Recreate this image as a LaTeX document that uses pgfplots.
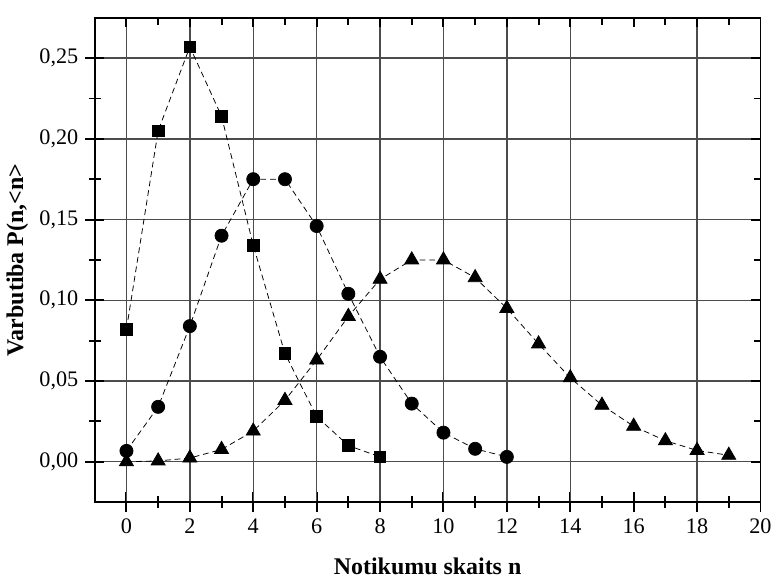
\documentclass[border=0pt]{standalone}
\usepackage{pgfplots}
\pgfplotsset{compat=1.18}
\usepackage{fontspec}
\setmainfont{Liberation Serif}
\begin{document}
\begin{tikzpicture}
\begin{axis}[
  scale only axis, width=345pt, height=251pt,
  xmin=-1, xmax=20, ymin=-0.025, ymax=0.275,
  xtick={0,2,...,20}, minor x tick num=1,
  ytick={0,0.05,...,0.25}, minor y tick num=1,
  xtick pos=bottom, ytick pos=left,
  tick align=center,
  major tick length=10pt, minor tick length=6pt,
  every tick/.style={black, line width=1pt},
  axis line style={line width=1pt},
  ymajorgrids,
  grid style={line width=0.7pt, black!70},
  extra x ticks={0,2,4,6,8,10,12,14,18},
  extra x tick labels={},
  extra x tick style={xmajorgrids, major tick length=0pt},
  /pgf/number format/assume math mode=true,
  yticklabel style={/pgf/number format/.cd, fixed, fixed zerofill, precision=2, use comma},
  ticklabel style={font=\fontsize{11.5}{13}\selectfont},
  xlabel={\textbf{Notikumu skaits n}},
  ylabel={\textbf{Varbutiba P(n,<n>}},
  label style={font=\fontsize{12.4}{14}\selectfont},
  xlabel style={yshift=-1pt},
  ylabel style={yshift=-1pt},
  clip=false,
]
\addplot[black, line width=0.4pt, densely dashed, mark=square*, mark size=3pt, mark options={solid}] coordinates {
(0,0.082) (1,0.205) (2,0.257) (3,0.214) (4,0.134) (5,0.067) (6,0.028) (7,0.010) (8,0.003)};
\addplot[black, line width=0.4pt, densely dashed, mark=*, mark size=3.4pt, mark options={solid}] coordinates {
(0,0.0067) (1,0.034) (2,0.084) (3,0.140) (4,0.175) (5,0.175) (6,0.146) (7,0.104) (8,0.065) (9,0.036) (10,0.018) (11,0.008) (12,0.003)};
\addplot[black, line width=0.4pt, densely dashed, mark=triangle*, mark size=4.2pt, mark options={solid}] coordinates {
(0,0.0000) (1,0.0005) (2,0.0023) (3,0.0076) (4,0.019) (5,0.038) (6,0.063) (7,0.090) (8,0.113) (9,0.125) (10,0.125) (11,0.114) (12,0.095) (13,0.073) (14,0.052) (15,0.035) (16,0.022) (17,0.013) (18,0.007) (19,0.004)};
\end{axis}
\begin{axis}[
  scale only axis, width=345pt, height=251pt,
  xmin=-1, xmax=20, ymin=-0.025, ymax=0.275,
  xtick={0,2,...,20}, minor x tick num=1,
  ytick={0,0.05,...,0.25}, minor y tick num=1,
  xtick pos=right, ytick pos=right,
  tick align=inside,
  major tick length=5pt, minor tick length=3.5pt,
  every tick/.style={black, line width=1pt},
  axis line style={line width=1pt},
  xticklabels={}, yticklabels={},
  yticklabel style={inner sep=0pt, outer sep=0pt},
  xticklabel style={inner xsep=0pt, inner ysep=4.5pt},
]
\end{axis}
\end{tikzpicture}
\end{document}
